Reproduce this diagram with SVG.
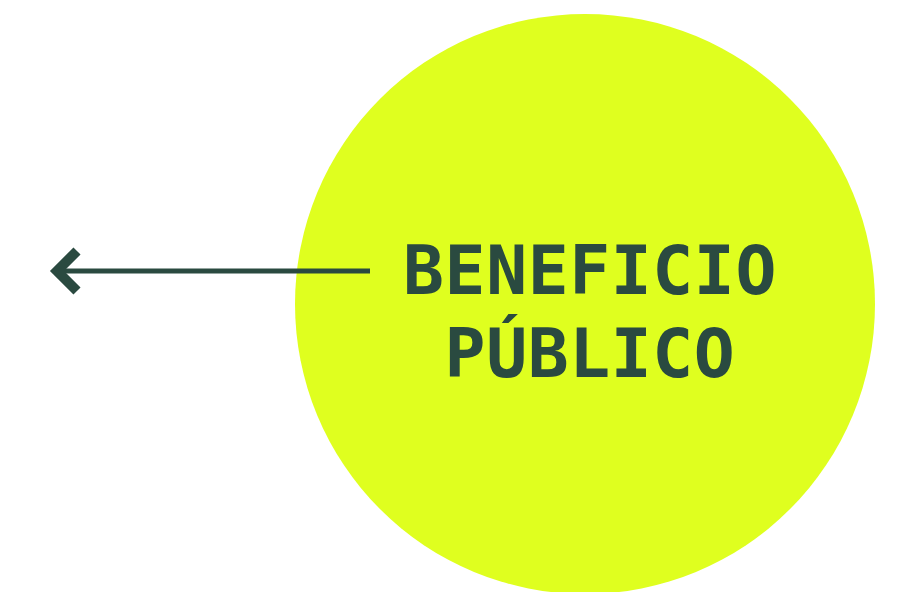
<svg xmlns="http://www.w3.org/2000/svg" width="897" height="592" viewBox="0 0 897 592">
<style>
.lbl{font-family:"DejaVu Sans Mono","Liberation Mono",monospace;font-weight:bold;font-size:68px;letter-spacing:0.6px;fill:#2a4a40;text-anchor:middle}
.conn{stroke:#2a4a40;fill:none}
</style>
<rect width="897" height="592" fill="#ffffff"/>
<g id="node-beneficio">
<circle cx="585" cy="304" r="290" fill="#dfff1f"/>
<text class="lbl" x="590" y="294">BENEFICIO</text>
<text class="lbl" x="590" y="377">PÚBLICO</text>
</g>
<g id="connectors">
<line class="conn" x1="58" y1="271" x2="370" y2="271" stroke-width="5"/>
<polyline class="conn" points="77,251 57,271 77,291" stroke-width="10" stroke-linejoin="miter"/>
</g>
</svg>
